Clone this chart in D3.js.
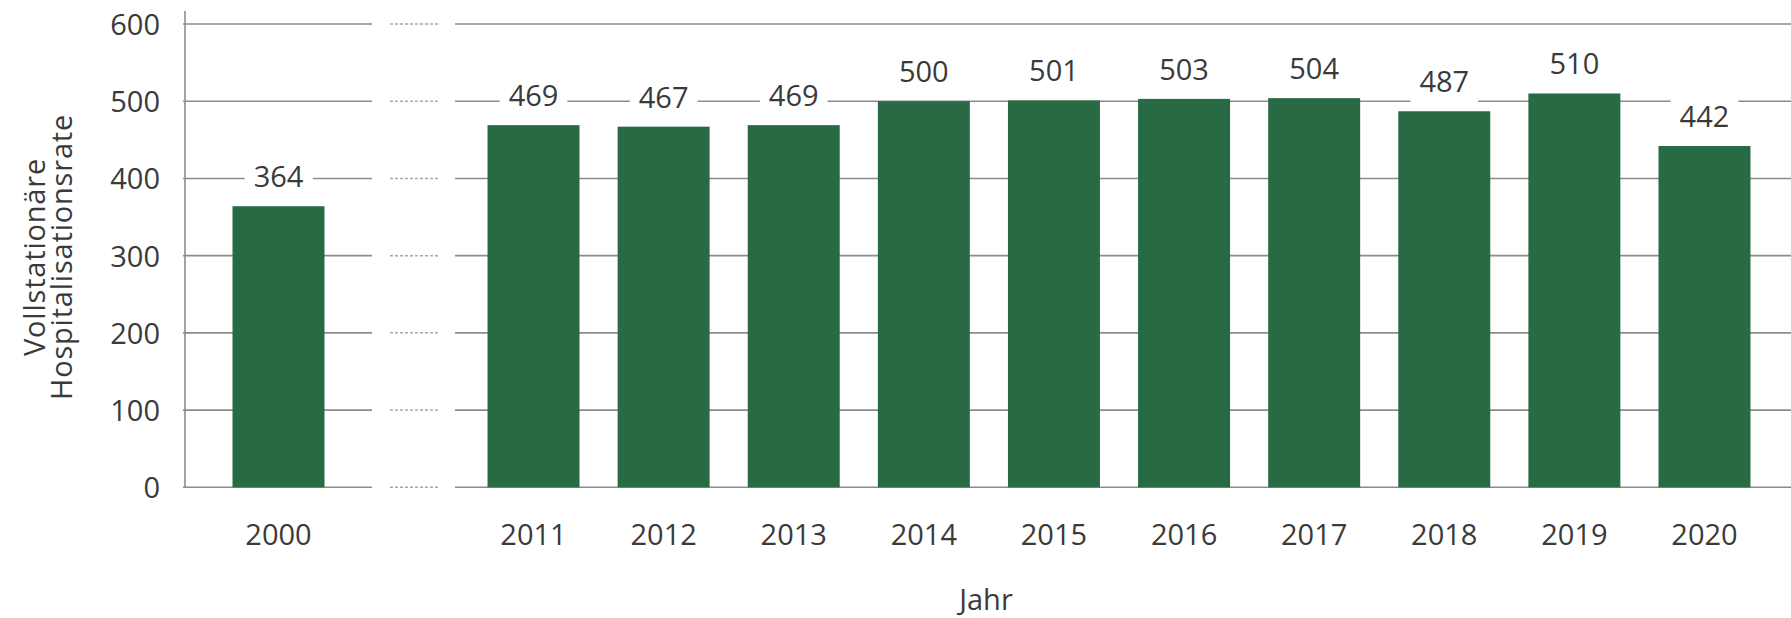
<!DOCTYPE html>
<html>
<head>
<meta charset="utf-8">
<script src="https://cdn.jsdelivr.net/npm/d3@7"></script>
<style>
  html, body { margin: 0; padding: 0; background: #ffffff; }
  svg { display: block; }
  text { font-family: "Open Sans", "DejaVu Sans", sans-serif; fill: #3a3a3a; }
</style>
</head>
<body>
<svg id="chart" width="1791" height="618"></svg>
<script>
// ---- data ----
const earlyYears = ["2000"];
const earlyValues = [364];
const lateYears = ["2011", "2012", "2013", "2014", "2015", "2016", "2017", "2018", "2019", "2020"];
const lateValues = [469, 467, 469, 500, 501, 503, 504, 487, 510, 442];
const yTicks = [0, 100, 200, 300, 400, 500, 600];
const yTitleLines = ["Vollstationäre", "Hospitalisationsrate"];
const xTitle = "Jahr";

// ---- layout ----
const W = 1791, H = 618;
const axisX = 185;
const breakSolidEnd = 372, breakDotStart = 390, breakDotEnd = 438, breakSolidStart = 455;
const plotRight = 1791;
const lateRangeEnd = 1783;
const yTop = 24, yBottom = 487.3;
const barColor = "#276a43";
const gridColor = "#8c8c8c";
const fontSize = 29;

const svg = d3.select("#chart");

const y = d3.scaleLinear().domain([0, 600]).range([yBottom, yTop]);

const xLate = d3.scaleBand().domain(lateYears)
  .range([breakSolidStart, lateRangeEnd])
  .paddingInner(0.293).paddingOuter(0.25);
const earlyWidth = breakSolidEnd - axisX;
const outerEarly = (earlyWidth / xLate.step() - (1 - 0.293)) / 2;
const xEarly = d3.scaleBand().domain(earlyYears)
  .range([axisX, breakSolidEnd])
  .paddingInner(0.293).paddingOuter(outerEarly);

// ---- gridlines ----
const grid = svg.append("g");
yTicks.forEach(t => {
  const yy = y(t);
  grid.append("line").attr("x1", axisX - 2).attr("x2", breakSolidEnd)
    .attr("y1", yy).attr("y2", yy)
    .attr("stroke", gridColor).attr("stroke-width", 1.6);
  grid.append("line").attr("x1", breakDotStart).attr("x2", breakDotEnd)
    .attr("y1", yy).attr("y2", yy)
    .attr("stroke", "#a8a8a8").attr("stroke-width", 1.5)
    .attr("stroke-dasharray", "3,2");
  grid.append("line").attr("x1", breakSolidStart).attr("x2", plotRight)
    .attr("y1", yy).attr("y2", yy)
    .attr("stroke", gridColor).attr("stroke-width", 1.6);
});
// vertical axis line
grid.append("line").attr("x1", axisX).attr("x2", axisX)
  .attr("y1", 11).attr("y2", yBottom)
  .attr("stroke", gridColor).attr("stroke-width", 1.6);

// ---- y tick labels (d3 axis, domain/ticks hidden) ----
const yAxis = svg.append("g")
  .attr("transform", `translate(${160},0)`)
  .call(d3.axisLeft(y).tickValues(yTicks).tickSize(0).tickPadding(0));
yAxis.select(".domain").remove();
yAxis.selectAll("text")
  .attr("font-size", fontSize)
  .attr("font-family", "'Open Sans', sans-serif")
  .attr("fill", "#3a3a3a")
  .attr("dy", "0.36em");

// ---- bars ----
const bars = svg.append("g");
function drawBars(scale, years, values) {
  const data = years.map((yr, i) => ({ yr, v: values[i] }));
  bars.selectAll(null).data(data).enter().append("rect")
    .attr("x", d => scale(d.yr))
    .attr("width", scale.bandwidth())
    .attr("y", d => y(d.v))
    .attr("height", d => y(0) - y(d.v))
    .attr("fill", barColor);

  // value labels with white background
  const lab = svg.append("g");
  data.forEach(d => {
    const cx = scale(d.yr) + scale.bandwidth() / 2;
    const by = y(d.v) - 19;
    const g = lab.append("g");
    const bg = g.append("rect").attr("fill", "#ffffff");
    const t = g.append("text")
      .attr("x", cx).attr("y", by)
      .attr("text-anchor", "middle")
      .attr("font-size", fontSize)
      .text(d.v);
    const bb = t.node().getBBox();
    bg.attr("x", bb.x - 9).attr("y", bb.y - 2)
      .attr("width", bb.width + 18).attr("height", bb.height + 6);
  });

  // x axis labels
  const xa = svg.append("g")
    .attr("transform", `translate(0,${yBottom})`)
    .call(d3.axisBottom(scale).tickSize(0).tickPadding(0));
  xa.select(".domain").remove();
  xa.selectAll("text")
    .attr("font-size", fontSize)
    .attr("font-family", "'Open Sans', sans-serif")
    .attr("fill", "#3a3a3a")
    .attr("dy", null)
    .attr("y", 58);
}
drawBars(xEarly, earlyYears, earlyValues);
drawBars(xLate, lateYears, lateValues);

// ---- axis titles ----
const yTitle = svg.append("text")
  .attr("transform", "rotate(-90)")
  .attr("text-anchor", "middle")
  .attr("font-size", fontSize)
  .attr("letter-spacing", 0.8);
yTitle.append("tspan").attr("x", -257).attr("y", 45).text(yTitleLines[0]);
yTitle.append("tspan").attr("x", -257).attr("y", 72).text(yTitleLines[1]);

svg.append("text")
  .attr("x", (axisX + plotRight) / 2 - 2)
  .attr("y", 610)
  .attr("text-anchor", "middle")
  .attr("font-size", fontSize)
  .text(xTitle);
</script>
</body>
</html>
